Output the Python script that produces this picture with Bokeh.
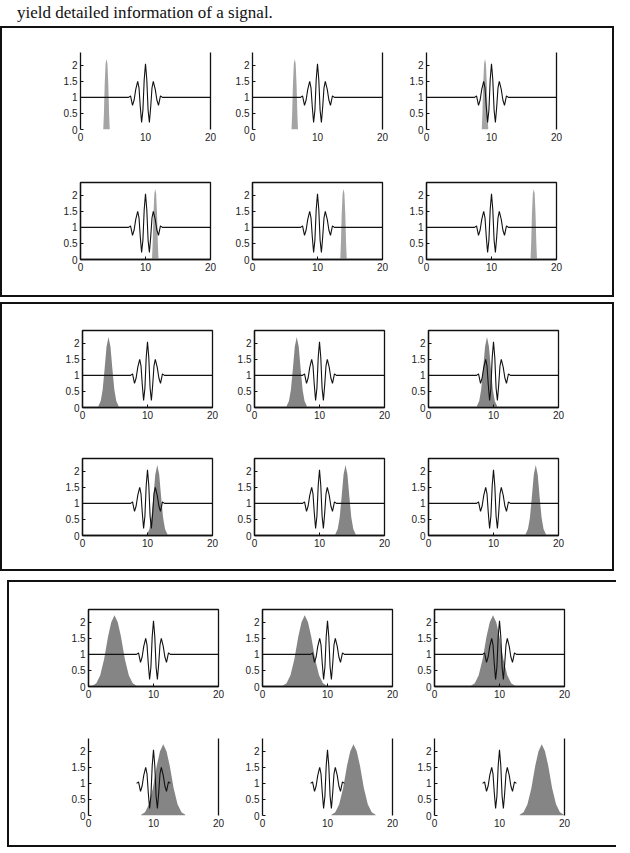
from bokeh.plotting import figure
from bokeh.models import Range1d, FixedTicker, LinearAxis, Div, Column, Row, Spacer
from bokeh.embed import file_html
from bokeh.resources import INLINE

# ---------------- data ----------------
title_text = "yield detailed information of a signal."

# test signal: flat at 1 with a wavelet burst near t = 10
signal_x = [0, 7.4, 7.7, 8.0, 8.25, 8.5, 8.8, 9.0, 9.2, 9.4, 9.6, 9.8, 10.0,
            10.2, 10.4, 10.6, 10.8, 11.0, 11.2, 11.5, 11.75, 12.0, 12.3, 12.6, 20]
signal_y = [1, 1, 1.05, 0.75, 0.92, 1.25, 1.5, 1.3, 0.7, 0.22, 0.6, 1.55, 2.05,
            1.55, 0.6, 0.22, 0.7, 1.3, 1.5, 1.25, 0.92, 0.75, 1.05, 1.0, 1]

# centres of the sliding window, one per sub-plot (same in all three panels)
window_centers = [4.0, 6.5, 9.0, 11.5, 14.0, 16.5]

# window profiles (offset from centre, height) for narrow / medium / wide windows
narrow_dx = [-0.5, -0.4, -0.28, -0.14, 0, 0.14, 0.28, 0.4, 0.5]
narrow_h = [0, 0.5, 1.4, 2.05, 2.2, 2.05, 1.4, 0.5, 0]
medium_dx = [-1.6, -1.2, -0.9, -0.6, -0.3, 0, 0.3, 0.6, 0.9, 1.2, 1.6]
medium_h = [0.02, 0.2, 0.55, 1.2, 1.9, 2.2, 1.9, 1.2, 0.55, 0.2, 0.02]
wide_dx = [-3.4, -2.8, -2.2, -1.6, -1.0, -0.5, 0, 0.5, 1.0, 1.6, 2.2, 2.8, 3.4]
wide_h = [0.02, 0.1, 0.35, 0.85, 1.55, 2.0, 2.22, 2.0, 1.55, 0.85, 0.35, 0.1, 0.02]

x_ticks = [0, 10, 20]
x_tick_labels = ["0", "10", "20"]
y_ticks = [0, 0.5, 1, 1.5, 2]
y_tick_labels = ["0", "0.5", "1", "1.5", "2"]

FONT = "Liberation Sans"


def make_fig(center, dx, h, color, L, R, T, B, framed=True, wave_only=False):
    p = figure(frame_width=130, frame_height=77,
               min_border_left=L, min_border_right=R,
               min_border_top=T, min_border_bottom=B,
               x_range=Range1d(0, 20), y_range=Range1d(0, 2.4),
               output_backend="svg", toolbar_location=None,
               background_fill_color="white", border_fill_color="white")
    p.grid.visible = False
    xs = [center + d for d in dx]
    p.varea(x=xs, y1=0, y2=h, fill_color=color, fill_alpha=1.0)
    if wave_only:
        p.line(signal_x[1:-1], signal_y[1:-1], line_color="#111111", line_width=1.1)
    else:
        p.line(signal_x, signal_y, line_color="#111111", line_width=1.1)

    for ax in (p.xaxis[0], p.yaxis[0]):
        ax.major_tick_in = 3
        ax.major_tick_out = 0
        ax.minor_tick_line_color = None
        ax.major_label_standoff = 3
        ax.major_label_text_font = FONT
        ax.major_label_text_font_size = "10px"
        ax.major_label_text_color = "#222222"
        ax.axis_line_color = "#111111"
        ax.axis_line_width = 1.3
        ax.major_tick_line_color = "#111111"
    p.xaxis.ticker = FixedTicker(ticks=x_ticks)
    p.xaxis.major_label_overrides = dict(zip(x_ticks, x_tick_labels))
    p.yaxis.ticker = FixedTicker(ticks=y_ticks)
    p.yaxis.major_label_overrides = dict(zip(y_ticks, y_tick_labels))

    if framed:
        p.outline_line_color = "#111111"
        p.outline_line_width = 1.3
        p.outline_line_alpha = 1.0
    else:
        p.outline_line_color = None
        p.xaxis.axis_line_color = None
        p.xaxis.major_tick_line_color = None
        rax = LinearAxis(ticker=FixedTicker(ticks=[]))
        rax.major_label_text_font_size = "0px"
        rax.major_label_standoff = 0
        rax.major_tick_in = 0
        rax.major_tick_out = 0
        rax.minor_tick_line_color = None
        rax.axis_line_color = "#111111"
        rax.axis_line_width = 1.3
        p.add_layout(rax, "right")
    return p


def make_panel(dx, h, color, lefts, rights, rows_tb, framed_rows, wave_rows, border):
    rows = []
    for r in range(2):
        figs = []
        for c in range(3):
            k = r * 3 + c
            figs.append(make_fig(window_centers[k], dx, h, color,
                                 lefts[c], rights[c], rows_tb[r][0], rows_tb[r][1],
                                 framed=framed_rows[r], wave_only=wave_rows[r]))
        rows.append(Row(children=figs, spacing=0))
    return Column(children=rows, spacing=0, styles=border)


title = Div(text='<div style="font-family:\'Liberation Serif\';'
                 'font-size:17px;line-height:16px;white-space:nowrap;color:#111">'
                 + title_text + '</div>',
            width=420, height=16,
            styles={"padding-left": "12px"})

full_border = {"border": "2px solid #111111"}
open_border = {"border-left": "2px solid #111111", "border-top": "2px solid #111111",
               "border-bottom": "2px solid #111111"}

panel1 = make_panel(narrow_dx, narrow_h, "#a4a4a4",
                    [78, 32, 34], [10, 10, 56], [(24, 30), (23, 36)],
                    [False, True], [False, False], full_border)
panel2 = make_panel(medium_dx, medium_h, "#858585",
                    [80, 32, 34], [10, 10, 54], [(26, 28), (23, 34)],
                    [True, True], [False, False], full_border)
panel3 = make_panel(wide_dx, wide_h, "#858585",
                    [79, 34, 32], [10, 10, 52], [(27, 24), (28, 30)],
                    [True, False], [False, True], open_border)

layout = Column(children=[title, panel1, Spacer(height=5), panel2, Spacer(height=9),
                          Row(children=[Spacer(width=7), panel3], spacing=0)],
                spacing=0)

open("out.html", "w").write(file_html(layout, INLINE))
